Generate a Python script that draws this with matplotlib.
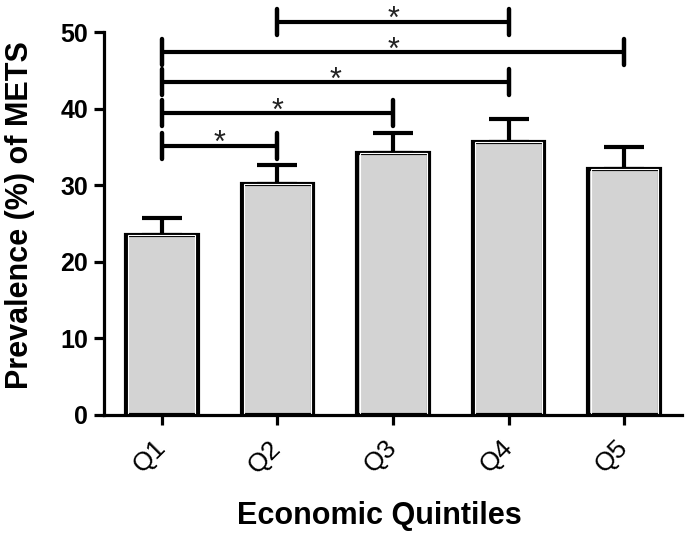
import matplotlib
matplotlib.use("Agg")
import matplotlib.pyplot as plt

plt.rcParams['font.family'] = ['Liberation Sans', 'DejaVu Sans']

categories = ["Q1", "Q2", "Q3", "Q4", "Q5"]
prevalence = [23.5, 30.2, 34.2, 35.7, 32.2]
errors = [2.2, 2.5, 2.7, 3.0, 2.8]
# significance brackets: (start index, end index, height)
brackets = [(1, 3, 51.4), (0, 4, 47.4), (0, 3, 43.5), (0, 2, 39.4), (0, 1, 35.2)]
yticks = [0, 10, 20, 30, 40, 50]

fig = plt.figure(figsize=(6.85, 5.35), dpi=100)
ax = fig.add_axes([0.152, 0.2243, 0.8436, 0.7153])

x = list(range(len(categories)))
ax.bar(x, prevalence, width=0.62, color='#d3d3d3', edgecolor='black',
       linewidth=3, zorder=2)
ax.bar(x, prevalence, width=0.58, color='none', edgecolor='white',
       linewidth=0.8, zorder=2.5)
ax.errorbar(x, prevalence, yerr=[[0]*len(errors), errors], fmt='none',
            ecolor='black', elinewidth=3, capsize=14.5, capthick=3, zorder=1)

for s, e, h in brackets:
    ax.plot([s, e], [h, h], color='black', lw=3, clip_on=False, zorder=3,
            solid_capstyle='butt')
    for xe in (s, e):
        ax.plot([xe, xe], [h - 1.7, h + 1.7], color='black', lw=3.2,
                clip_on=False, zorder=3, solid_capstyle='round')
    ax.text((s + e) / 2, h - 0.87, '*', ha='center', va='baseline',
            fontsize=22, color='#222222', clip_on=False)

ax.set_xlim(-0.5, 4.5)
ax.set_ylim(0, 50)
ax.set_yticks(yticks)
ax.set_yticklabels([str(t) for t in yticks], fontsize=18, fontweight='bold')
ax.set_xticks(x)
ax.set_xticklabels(categories, fontsize=19, rotation=45, ha='right',
                   va='center', rotation_mode='anchor')

for sp in ('top', 'right'):
    ax.spines[sp].set_visible(False)
for sp in ('left', 'bottom'):
    ax.spines[sp].set_linewidth(2.3)
ax.tick_params(axis='both', width=2.3, length=7, color='black')
ax.tick_params(axis='y', pad=4.5)
ax.tick_params(axis='x', pad=14)

ax.set_ylabel('Prevalence (%) of METS', fontsize=22, fontweight='bold')
ax.yaxis.set_label_coords(-0.12, 0.522)
ax.set_xlabel('Economic Quintiles', fontsize=22, fontweight='bold')
ax.xaxis.set_label_coords(0.477, -0.225)

fig.savefig('out.png', dpi=100)
